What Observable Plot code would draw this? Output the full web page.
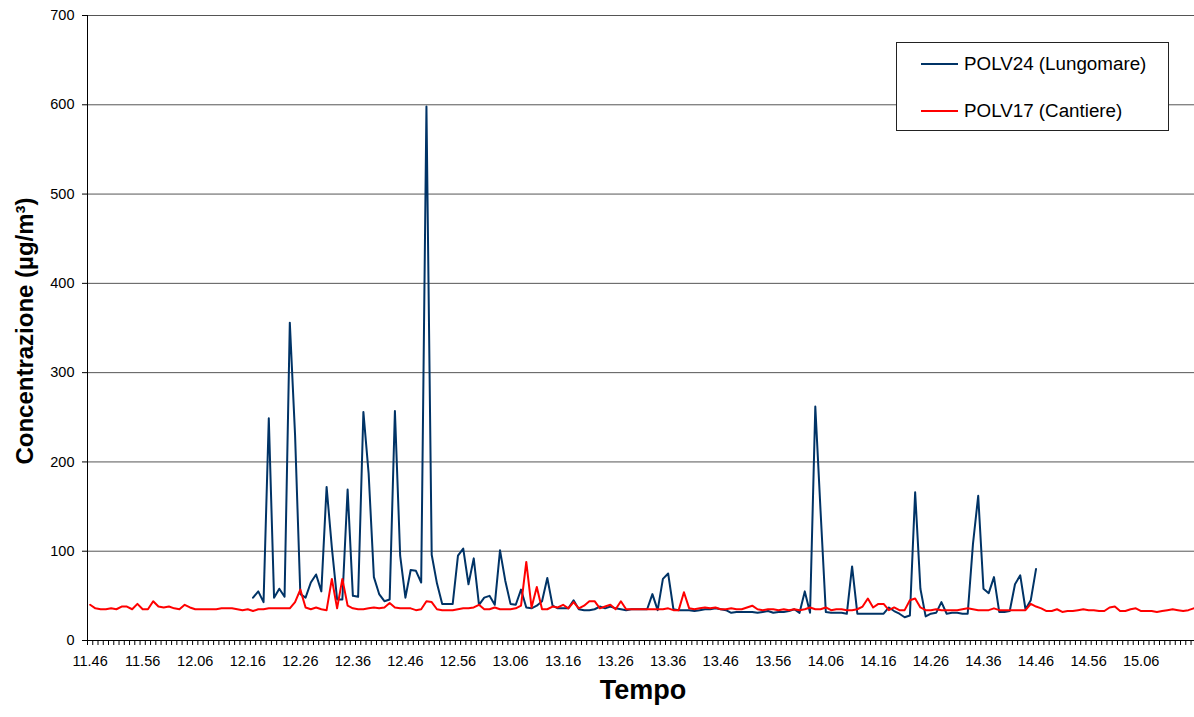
<!DOCTYPE html>
<html>
<head>
<meta charset="utf-8">
<script src="https://cdn.jsdelivr.net/npm/d3@7"></script>
<script src="https://cdn.jsdelivr.net/npm/@observablehq/plot@0.6"></script>
<style>
  body { margin: 0; background: #fff; }
  #wrap { position: relative; width: 1194px; height: 717px; font-family: "Liberation Sans", Arial, sans-serif; }
  #legend { position: absolute; left: 896px; top: 42px; width: 273px; height: 89px; box-sizing: border-box;
            border: 1px solid #222; background: #fff; }
  .row { position: absolute; left: 24px; height: 24px; display: flex; align-items: center; }
  .sw { width: 37px; height: 2px; margin-right: 6px; }
  .lab { font-size: 18.8px; color: #000; white-space: nowrap; }
</style>
</head>
<body>
<div id="wrap"></div>
<script>
// Category labels (every 10th minute, starting 11.46)
const tickLabels = ["11.46","11.56","12.06","12.16","12.26","12.36","12.46","12.56","13.06","13.16","13.26",
                    "13.36","13.46","13.56","14.06","14.16","14.26","14.36","14.46","14.56","15.06"];
const yTicks = [0, 100, 200, 300, 400, 500, 600, 700];
const seriesNames = ["POLV24 (Lungomare)", "POLV17 (Cantiere)"];
const seriesColors = ["#003366", "#ff0000"];
const xTitle = "Tempo";
const yTitle = "Concentrazione (µg/m³)";

// POLV17 (Cantiere): one value per minute from 11.46
const polv17 = [
  40,36,35,35,36,35,38,38,35,41, 35,35,44,38,37,38,36,35,40,37,
  35,35,35,35,35,36,36,36,35,34, 35,33,35,35,36,36,36,36,36,43,
  57,37,35,37,35,34,69,36,69,39, 36,35,35,36,37,36,37,42,37,36,
  36,36,34,35,44,43,35,34,34,34, 35,36,36,37,40,35,35,37,35,35,
  35,36,39,88,37,60,35,35,38,37, 40,36,43,36,39,44,44,36,38,40,
  35,44,35,35,35,35,35,35,35,35, 36,34,34,54,36,35,36,37,36,37,
  35,35,36,35,35,37,39,35,34,35, 35,34,35,34,35,34,35,37,35,35,
  37,34,35,35,34,34,35,38,47,37, 41,41,34,37,34,34,45,47,37,34,
  34,35,34,34,34,34,35,36,35,34, 34,34,36,34,34,34,34,34,34,41,
  38,36,33,33,35,32,33,33,34,35, 34,34,33,33,37,38,33,33,35,36,
  33,33,33,32,33,34,35,34,33,34, 36
];

// POLV24 (Lungomare): one value per minute from 12.17
const polv24Start = 31;
const polv24 = [
  48,55,43,249,48,58,49,356,230,52,
  48,65,74,55,172,104,46,46,169,50,
  49,256,187,71,52,44,46,257,95,48,
  79,78,65,598,96,64,41,41,41,95,
  103,63,92,40,48,50,40,101,67,41,
  40,57,37,36,39,44,70,39,36,36,
  36,45,35,34,34,35,38,36,38,36,
  35,34,35,35,35,35,52,34,69,75,
  35,34,34,34,33,34,35,35,36,35,
  34,31,32,32,32,32,31,32,33,31,
  32,32,33,35,31,55,31,262,145,32,
  31,31,31,30,83,30,30,30,30,30,
  30,37,33,30,26,28,166,58,27,30,
  31,43,30,31,31,30,30,108,162,58,
  53,71,32,32,33,63,73,35,45,80
];

const red = polv17.map((v, i) => ({i, v}));
const blue = polv24.map((v, k) => ({i: polv24Start + k, v}));

const xDomain = [-0.5, 210.16];
const minuteTicks = d3.range(0, 211).map(i => i - 0.5);
const labelPositions = tickLabels.map((_, k) => k * 10);

const chart = Plot.plot({
  width: 1194,
  height: 717,
  marginLeft: 87,
  marginRight: 0,
  marginTop: 15,
  marginBottom: 77,
  style: {fontFamily: "Liberation Sans, Arial, sans-serif", fontSize: "14.5px", color: "#000", background: "#fff", overflow: "visible"},
  x: {domain: xDomain},
  y: {domain: [0, 700]},
  marks: [
    Plot.gridY(yTicks.filter(d => d > 0), {stroke: "#555", strokeOpacity: 1, strokeWidth: 1}),
    Plot.axisY(yTicks, {tickSize: 5, tickPadding: 8, fontSize: 14.5, label: null, stroke: "#000"}),
    Plot.axisX(minuteTicks, {tickSize: 5, tickFormat: () => "", label: null, stroke: "#000"}),
    Plot.axisX(labelPositions, {tickSize: 0, tickPadding: 15, fontSize: 14.5, label: null,
                                tickFormat: d => tickLabels[Math.round(d / 10)]}),
    Plot.ruleY([0], {stroke: "#000", strokeWidth: 1}),
    Plot.ruleX([xDomain[0]], {stroke: "#000", strokeWidth: 1}),
    Plot.line(blue, {x: "i", y: "v", stroke: seriesColors[0], strokeWidth: 2, strokeLinejoin: "round"}),
    Plot.line(red, {x: "i", y: "v", stroke: seriesColors[1], strokeWidth: 2, strokeLinejoin: "round"}),
    Plot.text([xTitle], {text: d => d, frameAnchor: "bottom", dy: 58, dx: 2, fontSize: 27, fontWeight: "bold", fill: "#000"}),
    Plot.text([yTitle], {text: d => d, frameAnchor: "left", textAnchor: "middle", dx: -62, dy: 3, rotate: -90,
                         fontSize: 24, fontWeight: "bold", fill: "#000"})
  ]
});

const wrap = document.getElementById("wrap");
wrap.appendChild(chart);

// Legend (HTML overlay inside the plot area, as in the original)
const legend = document.createElement("div");
legend.id = "legend";
const rowCenters = [21, 68];
seriesNames.forEach((name, k) => {
  const row = document.createElement("div");
  row.className = "row";
  row.style.top = (rowCenters[k] - 12) + "px";
  const sw = document.createElement("span");
  sw.className = "sw";
  sw.style.background = seriesColors[k];
  const lab = document.createElement("span");
  lab.className = "lab";
  lab.textContent = name;
  row.appendChild(sw);
  row.appendChild(lab);
  legend.appendChild(row);
});
wrap.appendChild(legend);
</script>
</body>
</html>
